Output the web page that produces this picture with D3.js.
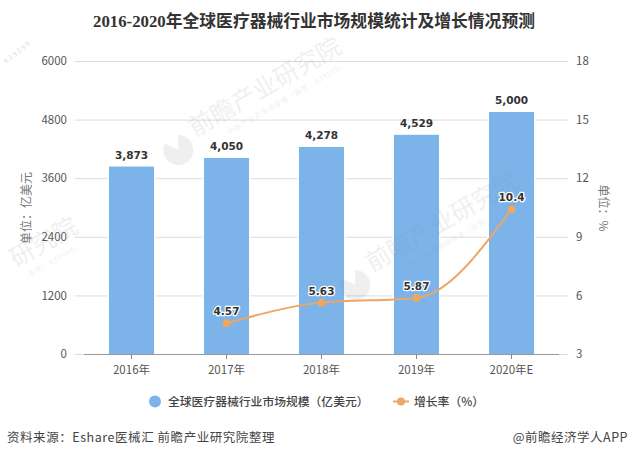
<!doctype html>
<html lang="en">
<head>
<meta charset="UTF-8">
<script src="https://cdn.jsdelivr.net/npm/d3@7/dist/d3.min.js"></script>
<style>
  html, body { margin: 0; padding: 0; background: #fff; }
  svg { display: block; }
  text { font-family: "Noto Sans CJK SC", "Noto Sans", sans-serif; }
  .tick-label { font-size: 11.5px; fill: #555; }
  .value-label { font-family: "DejaVu Sans", sans-serif; font-size: 10.5px; font-weight: bold; fill: #333; }
  .halo { paint-order: stroke; stroke: #fff; stroke-width: 2.5px; stroke-linejoin: round; }
  .grid line { stroke: #dcdcdc; stroke-width: 1; }
  .mark { opacity: 0.12; }
  .mark text, .mark path { fill: #7f858b; }
</style>
</head>
<body>
<svg id="chart" width="629" height="458"></svg>
<script>
// data
const years = ["2016年", "2017年", "2018年", "2019年", "2020年E"];
const marketSize = [3873, 4050, 4278, 4529, 5000];
const growthRate = [null, 4.57, 5.63, 5.87, 10.4];
const leftTicks = [0, 1200, 2400, 3600, 4800, 6000];
const rightTicks = [3, 6, 9, 12, 15, 18];
const barName = "全球医疗器械行业市场规模（亿美元）";
const lineName = "增长率（%）";
const titleText = "2016-2020年全球医疗器械行业市场规模统计及增长情况预测";
const sourceText = "资料来源：Eshare医械汇 前瞻产业研究院整理";
const creditText = "@前瞻经济学人APP";
const markMain = ["前瞻产业研究院", "前瞻产业研究院", "研究院"];
const markSmall = ["中国产业咨询领导者（股票：839599）", "中国产业咨询领导者（股票：839599）", "（股票：839599）"];

const barColor = "#7cb4ea", lineColor = "#eda665";
const svg = d3.select("#chart");
const plotLeft = 84, plotRight = 559, plotTop = 61, plotBottom = 354;

const x = d3.scaleBand().domain(years).range([plotLeft, plotRight]).paddingInner(0.526).paddingOuter(0.263);
const yLeft = d3.scaleLinear().domain([0, 6000]).range([plotBottom, plotTop]);
// the bars in the picture stop about 2px short of the axis scale
const yBar = d3.scaleLinear().domain([0, 6000]).range([plotBottom, plotTop + 2.6]);
const yRight = d3.scaleLinear().domain([3, 18]).range([plotBottom, plotTop]);
const cx = d => x(d) + x.bandwidth() / 2;

// gridlines run a bit past the plot on both sides, they double as ticks
svg.append("g").attr("class", "grid").selectAll("line")
  .data(leftTicks).enter().append("line")
  .attr("x1", plotLeft - 9).attr("x2", plotRight + 9)
  .attr("y1", d => yLeft(d) + 0.5).attr("y2", d => yLeft(d) + 0.5);

// bars, the white outer stroke makes the small gap in the gridlines
svg.selectAll("rect.bar")
  .data(marketSize).enter().append("rect")
  .attr("class", "bar")
  .attr("x", (d, i) => x(years[i]))
  .attr("width", x.bandwidth())
  .attr("y", d => yBar(d))
  .attr("height", d => plotBottom - yBar(d))
  .attr("fill", barColor)
  .attr("stroke", "#fff").attr("stroke-width", 3)
  .style("paint-order", "stroke");

svg.append("g").attr("transform", "translate(0," + plotBottom + ")")
  .call(d3.axisBottom(x).tickSize(5).tickPadding(7))
  .call(g => g.select(".domain").attr("stroke", "#999").attr("d", "M" + plotLeft + ",0.5H" + plotRight))
  .call(g => g.selectAll(".tick line").attr("stroke", "#888"))
  .call(g => g.selectAll(".tick text").attr("class", "tick-label").attr("fill", null));

svg.append("g").attr("transform", "translate(" + (plotLeft - 14) + ",0)")
  .call(d3.axisLeft(yLeft).tickValues(leftTicks).tickSize(0).tickFormat(d3.format("d")))
  .call(g => g.select(".domain").remove())
  .call(g => g.selectAll(".tick text").attr("class", "tick-label").attr("fill", null));

svg.append("g").attr("transform", "translate(" + (plotRight + 14) + ",0)")
  .call(d3.axisRight(yRight).tickValues(rightTicks).tickSize(0))
  .call(g => g.select(".domain").remove())
  .call(g => g.selectAll(".tick text").attr("class", "tick-label").attr("fill", null));

// axis titles
svg.append("text").attr("transform", "translate(27,208) rotate(-90)")
  .attr("text-anchor", "middle").attr("dy", "0.35em")
  .style("font-size", "12px").attr("fill", "#777").text("单位：亿美元");
svg.append("text").attr("transform", "translate(603,208) rotate(90)")
  .attr("text-anchor", "middle").attr("dy", "0.35em")
  .style("font-size", "12px").attr("fill", "#777").text("单位：%");

// watermarks: each group starts where its big text starts
const markPos = [[195, 137], [372, 272], [16, 268]];
const logoArc = d3.arc().innerRadius(0).outerRadius(15);
const marks = svg.selectAll("g.mark")
  .data(markMain).enter().append("g")
  .attr("class", "mark")
  .attr("transform", (d, i) => "translate(" + markPos[i] + ") rotate(-30)");
marks.append("text").style("font-size", "24.5px").text(d => d);
marks.append("text").attr("x", (d, i) => i < 2 ? 30 : 0).attr("y", 15)
  .style("font-size", "7px").style("letter-spacing", "0.8px")
  .text((d, i) => markSmall[i]);
marks.filter((d, i) => i < 2).append("path")
  .attr("transform", "translate(-21,3)")
  .attr("d", logoArc({ startAngle: 0.5, endAngle: 5.7 }));
// only the tail of the fourth watermark shows in the top left corner
svg.append("text").attr("class", "corner-mark")
  .attr("transform", "translate(6,64) rotate(-38)")
  .style("font-size", "7px").style("letter-spacing", "1.6px")
  .attr("fill", "#7f858b").attr("opacity", 0.25).text("839599");

// bar labels
svg.selectAll("text.bar-label")
  .data(marketSize).enter().append("text")
  .attr("class", "value-label bar-label")
  .attr("x", (d, i) => cx(years[i]))
  .attr("y", d => yBar(d) - 8)
  .attr("text-anchor", "middle")
  .text(d3.format(","));

// growth line
const linePts = growthRate.map((d, i) => ({ year: years[i], v: d })).filter(d => d.v !== null);
const line = d3.line().x(d => cx(d.year)).y(d => yRight(d.v)).curve(d3.curveMonotoneX);
svg.append("path").datum(linePts)
  .attr("d", line).attr("fill", "none").attr("stroke", lineColor).attr("stroke-width", 2);
svg.selectAll("circle.pt")
  .data(linePts).enter().append("circle")
  .attr("class", "pt")
  .attr("cx", d => cx(d.year)).attr("cy", d => yRight(d.v)).attr("r", 4)
  .attr("fill", lineColor);
svg.selectAll("text.line-label")
  .data(linePts).enter().append("text")
  .attr("class", "value-label halo line-label")
  .attr("x", d => cx(d.year)).attr("y", d => yRight(d.v) - 8)
  .attr("text-anchor", "middle")
  .text(d => d.v);

// title
svg.append("text").attr("x", 314).attr("y", 26.5).attr("text-anchor", "middle")
  .style("font-family", '"Liberation Serif", "Noto Sans CJK SC", serif')
  .style("font-size", "16.8px").style("font-weight", "bold").attr("fill", "#333")
  .text(titleText);

// legend
svg.append("circle").attr("cx", 155).attr("cy", 401.5).attr("r", 6).attr("fill", barColor);
svg.append("text").attr("x", 168).attr("y", 401.5).attr("dy", "0.35em")
  .style("font-size", "11.8px").style("font-weight", "500").attr("fill", "#444").text(barName);
svg.append("line").attr("x1", 393).attr("x2", 409).attr("y1", 401.5).attr("y2", 401.5)
  .attr("stroke", lineColor).attr("stroke-width", 2);
svg.append("circle").attr("cx", 401).attr("cy", 401.5).attr("r", 4).attr("fill", lineColor);
svg.append("text").attr("x", 414).attr("y", 401.5).attr("dy", "0.35em")
  .style("font-size", "11.8px").style("font-weight", "500").attr("fill", "#444").text(lineName);

// footer
svg.append("text").attr("x", 7).attr("y", 441.5)
  .style("font-size", "12.5px").style("letter-spacing", "0.55px").attr("fill", "#444").text(sourceText);
svg.append("text").attr("x", 628).attr("y", 441.5).attr("text-anchor", "end")
  .style("font-size", "12.5px").style("letter-spacing", "0.5px").attr("fill", "#444").text(creditText);
</script>
</body>
</html>
